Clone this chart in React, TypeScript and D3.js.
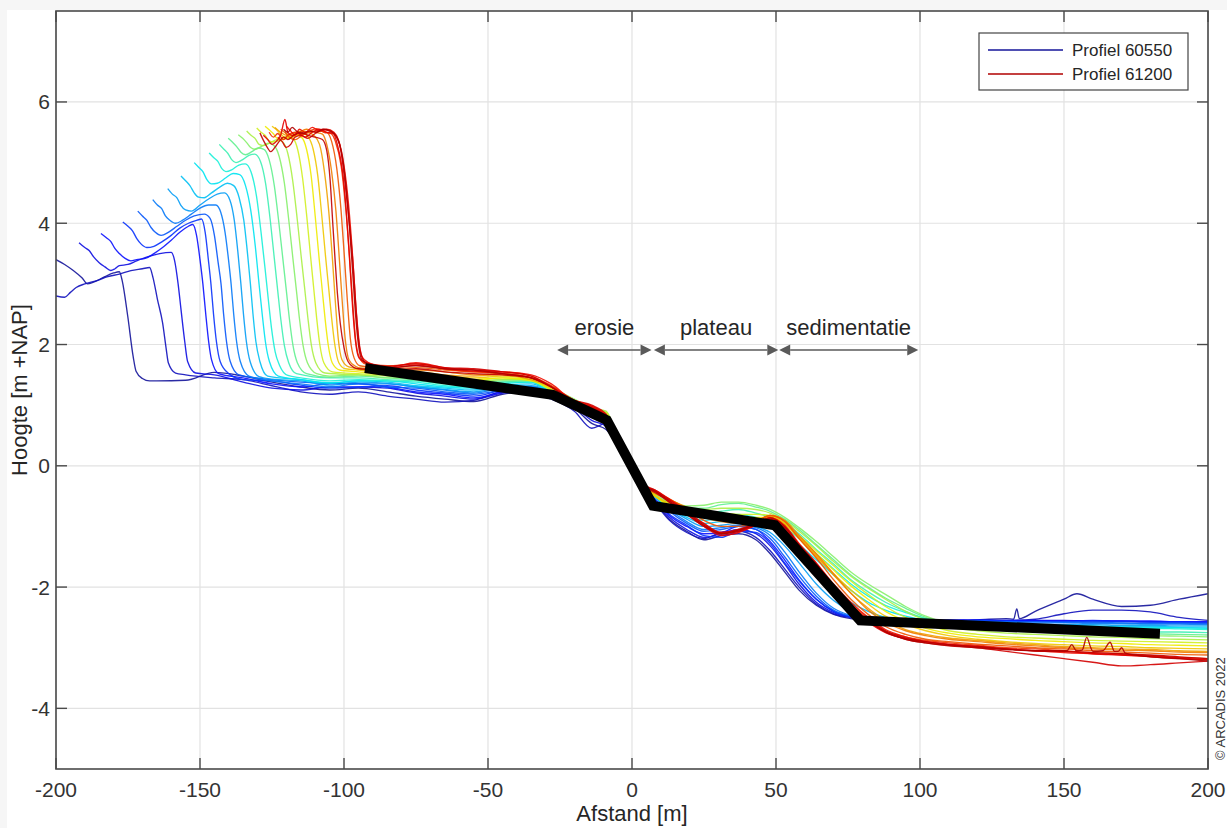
import React from 'react';
import * as d3 from 'd3';

// ---- axes -------------------------------------------------------------
const xTicks = [-200, -150, -100, -50, 0, 50, 100, 150, 200];
const yTicks = [-4, -2, 0, 2, 4, 6];
const xDomain: [number, number] = [-200, 200];
const yDomain: [number, number] = [-5, 7.5];

const xLabel = 'Afstand [m]';
const yLabel = 'Hoogte [m +NAP]';
const credit = '\u00A9 ARCADIS 2022';
const legendLabels = ['Profiel 60550', 'Profiel 61200'];

// ---- zones above the profile --------------------------------------------
const zoneNames = ['erosie', 'plateau', 'sedimentatie'];
const zoneStart = [-26, 7.6, 51.1];
const zoneEnd = [6.8, 50.8, 99.4];
const zoneLevel = 1.91;

// ---- schematised profile (thick black line) ------------------------------
const kustlijnX = [-92.7, -27.5, -8.7, 7.3, 49.6, 79.2, 183.3];
const kustlijnY = [1.61, 1.17, 0.75, -0.66, -0.98, -2.55, -2.77];

// ---- measured profiles ---------------------------------------------------
// shared distance raster for the beach/foreshore part of every profile;
// each "zee" array holds heights for the last N raster points
const rasterX = [
  -165, -155, -145, -135, -125, -115, -105,
  -95, -85, -75, -65, -55, -45, -35,
  -28, -20, -14, -9, -5,
  0, 4, 8, 13, 19,
  25, 31, 37, 43, 48,
  53, 58, 64, 70, 76,
  82, 88, 95, 102, 110,
  120, 130, 140, 150, 160,
  170, 180, 190, 200,
];

type P = [number, number];

const duin00: P[] = [[-200,3.40],[-197,3.32],[-194,3.22],[-191,3.10],[-189,3.00],[-186,3.05],[-183,3.12],[-180,3.18],[-178,3.20],[-177,3.05],[-175.1,2.47],[-173.2,1.80],[-172.2,1.56],[-170,1.44],[-167.5,1.40]];
const zee00 = [1.40, 1.41, 1.54, 1.48, 1.38, 1.30, 1.25,
  1.28, 1.22, 1.15, 1.10, 1.06, 1.18, 1.22,
  1.12, 0.95, 0.70, 0.60, 0.35,
  -0.10, -0.40, -0.60, -0.88, -1.08,
  -1.22, -1.15, -1.12, -1.22, -1.45,
  -1.75, -2.05, -2.30, -2.45, -2.52,
  -2.55, -2.56, -2.55, -2.56, -2.55,
  -2.54, -2.52, -2.40, -2.20, -2.20,
  -2.32, -2.30, -2.20, -2.11];
const extra00: P[] = [[132.5,-2.53],[133.6,-2.36],[134.5,-2.52],[154.5,-2.11]];

const duin01: P[] = [[-200,2.80],[-197,2.78],[-195,2.86],[-193,2.94],[-190,3.00],[-186,3.05],[-182,3.12],[-178,3.16],[-174,3.22],[-170,3.25],[-167.5,3.27],[-166.3,3.10],[-164.8,2.75],[-163,2.36],[-161.8,1.95],[-161,1.70],[-158.5,1.53]];
const zee01 = [1.50, 1.45, 1.42, 1.32, 1.22, 1.18,
  1.22, 1.15, 1.10, 1.05, 1.08, 1.22, 1.18,
  1.10, 0.90, 0.62, 0.70, 0.32,
  -0.12, -0.42, -0.62, -0.90, -1.10,
  -1.20, -1.10, -1.08, -1.18, -1.40,
  -1.70, -2.00, -2.28, -2.44, -2.50,
  -2.53, -2.54, -2.55, -2.55, -2.54,
  -2.55, -2.55, -2.53, -2.44, -2.38,
  -2.38, -2.41, -2.50, -2.55];

const duin02: P[] = [[-192,3.68],[-190,3.60],[-188.5,3.55],[-187,3.45],[-185,3.35],[-183,3.28],[-181,3.22],[-179.5,3.25],[-178,3.30],[-175,3.32],[-172,3.38],[-168,3.45],[-164,3.50],[-160,3.52],[-158.8,3.38],[-157.6,3.00],[-156.6,2.58],[-155.3,2.05],[-154.3,1.72],[-151.5,1.53]];
const zee02 = [1.50, 1.38, 1.28, 1.25, 1.30,
  1.30, 1.28, 1.20, 1.15, 1.10, 1.20, 1.25,
  1.12, 0.98, 0.75, 0.65, 0.36,
  -0.08, -0.40, -0.58, -0.85, -1.05,
  -1.18, -1.12, -1.05, -1.12, -1.32,
  -1.62, -1.95, -2.25, -2.42, -2.50,
  -2.54, -2.55, -2.55, -2.54, -2.55,
  -2.55, -2.56, -2.55, -2.55, -2.56,
  -2.56, -2.57, -2.57, -2.58];

const duin03: P[] = [[-184.4,3.83],[-182.5,3.76],[-181,3.70],[-179.5,3.58],[-178,3.50],[-176,3.42],[-174,3.38],[-172,3.40],[-169,3.42],[-166,3.50],[-163,3.60],[-160,3.72],[-157,3.85],[-154,3.95],[-152.5,3.98],[-151.2,3.80],[-150,3.40],[-149,3.00],[-148,2.50],[-147,2.05],[-146,1.75],[-143.5,1.52]];
const zee03 = [1.45, 1.35, 1.30, 1.35,
  1.35, 1.30, 1.22, 1.18, 1.12, 1.22, 1.28,
  1.15, 1.00, 0.80, 0.72, 0.38,
  -0.05, -0.38, -0.55, -0.82, -1.00,
  -1.12, -1.10, -1.00, -1.05, -1.25,
  -1.55, -1.88, -2.20, -2.40, -2.49,
  -2.53, -2.54, -2.54, -2.55, -2.55,
  -2.54, -2.55, -2.55, -2.56, -2.55,
  -2.56, -2.56, -2.57, -2.57];

const duin04: P[] = [[-176.8,4.02],[-175,3.95],[-173.5,3.88],[-172,3.75],[-170.5,3.66],[-168.5,3.60],[-166,3.62],[-163,3.70],[-160,3.80],[-157,3.92],[-154,4.00],[-151,4.05],[-149.5,4.07],[-148.2,3.85],[-147.1,3.40],[-146.2,3.00],[-145.3,2.50],[-144.3,2.05],[-143,1.72],[-140,1.52]];
const zee04 = [1.42, 1.40, 1.33, 1.28,
  1.30, 1.32, 1.25, 1.20, 1.15, 1.25, 1.30,
  1.18, 1.02, 0.82, 0.70, 0.40,
  -0.04, -0.36, -0.56, -0.80, -0.98,
  -1.15, -1.18, -1.08, -1.10, -1.28,
  -1.60, -1.90, -2.20, -2.40, -2.50,
  -2.54, -2.55, -2.55, -2.56, -2.56,
  -2.55, -2.56, -2.57, -2.57, -2.56,
  -2.57, -2.58, -2.58, -2.59];

const duin05: P[] = [[-171.6,4.20],[-170,4.12],[-168.5,4.05],[-167,3.93],[-165.5,3.85],[-163.5,3.80],[-161,3.85],[-158,3.95],[-155,4.05],[-152,4.12],[-148.5,4.15],[-146.5,4.08],[-145,3.80],[-143.7,3.35],[-142.7,3.00],[-141.8,2.50],[-140.8,2.05],[-139.5,1.72],[-136.5,1.50]];
const zee05 = [1.42, 1.38, 1.36,
  1.36, 1.30, 1.28, 1.22, 1.18, 1.25, 1.30,
  1.20, 1.00, 0.85, 0.75, 0.40,
  -0.03, -0.35, -0.52, -0.75, -0.95,
  -1.08, -1.05, -1.00, -1.05, -1.20,
  -1.50, -1.82, -2.15, -2.38, -2.48,
  -2.53, -2.55, -2.56, -2.56, -2.57,
  -2.56, -2.57, -2.57, -2.58, -2.58,
  -2.59, -2.60, -2.60, -2.60];

const duin06: P[] = [[-166.4,4.39],[-164.8,4.30],[-163.3,4.24],[-162,4.12],[-160.5,4.05],[-158.5,4.00],[-156,4.05],[-153,4.15],[-150,4.25],[-147,4.30],[-144.5,4.30],[-142.8,4.18],[-141.3,3.85],[-140.1,3.40],[-139.2,3.00],[-138.3,2.50],[-137.3,2.05],[-136,1.72],[-133,1.48]];
const zee06 = [1.40, 1.35, 1.30,
  1.35, 1.35, 1.30, 1.25, 1.20, 1.28, 1.30,
  1.20, 1.02, 0.85, 0.78, 0.42,
  0.00, -0.33, -0.50, -0.72, -0.92,
  -1.05, -1.02, -0.98, -1.02, -1.15,
  -1.42, -1.75, -2.10, -2.35, -2.47,
  -2.53, -2.55, -2.56, -2.57, -2.57,
  -2.58, -2.58, -2.59, -2.59, -2.60,
  -2.60, -2.61, -2.61, -2.62];

const duin07: P[] = [[-161.2,4.57],[-159.6,4.48],[-158,4.42],[-156.7,4.30],[-155,4.22],[-153,4.20],[-150,4.30],[-147,4.40],[-144,4.48],[-141.5,4.50],[-139.6,4.38],[-138.1,4.05],[-136.8,3.50],[-135.8,3.00],[-134.9,2.50],[-133.9,2.05],[-132.6,1.72],[-129.5,1.47]];
const zee07 = [1.43, 1.40, 1.33,
  1.38, 1.36, 1.30, 1.26, 1.22, 1.30, 1.32,
  1.22, 1.05, 0.88, 0.78, 0.43,
  0.00, -0.32, -0.50, -0.70, -0.88,
  -1.00, -0.98, -0.95, -1.00, -1.10,
  -1.32, -1.60, -1.95, -2.22, -2.40,
  -2.50, -2.54, -2.56, -2.58, -2.59,
  -2.60, -2.61, -2.61, -2.62, -2.62,
  -2.63, -2.63, -2.64, -2.64];

const duin08: P[] = [[-156.6,4.78],[-155,4.70],[-153.5,4.62],[-152,4.50],[-150.5,4.43],[-148.5,4.42],[-146,4.50],[-143,4.60],[-140.5,4.66],[-138.3,4.62],[-136.4,4.42],[-134.8,4.05],[-133.5,3.50],[-132.5,3.00],[-131.6,2.50],[-130.6,2.05],[-129.2,1.72],[-126.5,1.48]];
const zee08 = [1.42, 1.36,
  1.40, 1.38, 1.32, 1.28, 1.25, 1.32, 1.35,
  1.22, 1.05, 0.90, 0.80, 0.44,
  0.01, -0.32, -0.52, -0.70, -0.85,
  -0.95, -0.92, -0.90, -0.95, -1.02,
  -1.20, -1.45, -1.75, -2.02, -2.25,
  -2.40, -2.50, -2.55, -2.58, -2.60,
  -2.61, -2.62, -2.63, -2.63, -2.64,
  -2.65, -2.65, -2.66, -2.66];

const duin09: P[] = [[-152,5.00],[-150.4,4.92],[-149,4.85],[-147.6,4.72],[-146,4.65],[-144,4.66],[-141,4.75],[-138.5,4.82],[-136.2,4.80],[-134.2,4.62],[-132.4,4.22],[-130.8,3.62],[-129.5,3.00],[-128.4,2.50],[-127.3,2.05],[-125.9,1.72],[-122.8,1.48]];
const zee09 = [1.42, 1.37,
  1.40, 1.40, 1.35, 1.30, 1.28, 1.35, 1.38,
  1.20, 1.05, 0.88, 0.80, 0.44,
  0.02, -0.30, -0.50, -0.70, -0.82,
  -0.90, -0.88, -0.86, -0.90, -0.98,
  -1.10, -1.30, -1.55, -1.80, -2.05,
  -2.25, -2.38, -2.48, -2.55, -2.60,
  -2.62, -2.63, -2.64, -2.65, -2.65,
  -2.66, -2.67, -2.67, -2.68];

const duin10: P[] = [[-146.8,5.16],[-145.2,5.08],[-143.8,5.02],[-142.4,4.90],[-141,4.85],[-139,4.88],[-136.5,4.96],[-134.3,4.98],[-132.3,4.85],[-130.4,4.45],[-128.8,3.85],[-127.4,3.25],[-126.3,2.75],[-125.2,2.28],[-123.9,1.88],[-122.4,1.66],[-119.5,1.49]];
const zee10 = [1.45, 1.40,
  1.42, 1.40, 1.38, 1.32, 1.30, 1.38, 1.38,
  1.22, 1.05, 0.90, 0.82, 0.45,
  0.03, -0.30, -0.50, -0.68, -0.80,
  -0.86, -0.82, -0.80, -0.85, -0.92,
  -1.02, -1.20, -1.45, -1.70, -1.95,
  -2.15, -2.30, -2.42, -2.52, -2.58,
  -2.62, -2.64, -2.65, -2.66, -2.67,
  -2.68, -2.68, -2.69, -2.70];

const duin11: P[] = [[-143.3,5.30],[-141.7,5.22],[-140.3,5.15],[-139,5.05],[-137.5,5.00],[-135.5,5.04],[-133,5.12],[-131,5.14],[-129,5.02],[-127.2,4.65],[-125.6,4.05],[-124.2,3.42],[-123,2.88],[-121.9,2.40],[-120.7,1.98],[-119.2,1.70],[-116.5,1.52]];
const zee11 = [1.45,
  1.45, 1.42, 1.40, 1.35, 1.32, 1.38, 1.40,
  1.25, 1.08, 0.90, 0.85, 0.45,
  0.03, -0.30, -0.50, -0.65, -0.75,
  -0.80, -0.75, -0.72, -0.78, -0.85,
  -0.95, -1.12, -1.38, -1.62, -1.88,
  -2.08, -2.25, -2.40, -2.52, -2.60,
  -2.66, -2.68, -2.70, -2.71, -2.72,
  -2.73, -2.74, -2.74, -2.75];

const duin12: P[] = [[-140.2,5.40],[-138.6,5.33],[-137.2,5.26],[-135.8,5.17],[-134.2,5.13],[-132,5.18],[-129.8,5.24],[-127.8,5.22],[-126,5.05],[-124.2,4.62],[-122.6,4.00],[-121.2,3.40],[-120,2.88],[-118.9,2.40],[-117.7,1.98],[-116.2,1.70],[-113,1.52]];
const zee12 = [1.46,
  1.48, 1.45, 1.42, 1.38, 1.35, 1.40, 1.40,
  1.25, 1.08, 0.92, 0.85, 0.46,
  0.04, -0.30, -0.48, -0.62, -0.70,
  -0.70, -0.64, -0.62, -0.68, -0.75,
  -0.88, -1.05, -1.30, -1.55, -1.80,
  -2.00, -2.18, -2.35, -2.50, -2.60,
  -2.66, -2.70, -2.72, -2.74, -2.75,
  -2.76, -2.77, -2.78, -2.79];

const duin13: P[] = [[-136.7,5.46],[-135.2,5.40],[-133.8,5.33],[-132.4,5.25],[-130.8,5.22],[-128.5,5.27],[-126.3,5.32],[-124.3,5.28],[-122.5,5.10],[-120.7,4.66],[-119.1,4.02],[-117.7,3.40],[-116.5,2.88],[-115.4,2.40],[-114.2,1.98],[-112.7,1.70],[-109.5,1.52]];
const zee13 = [1.48,
  1.50, 1.45, 1.45, 1.40, 1.38, 1.42, 1.42,
  1.28, 1.10, 0.95, 0.88, 0.47,
  0.05, -0.30, -0.47, -0.60, -0.66,
  -0.65, -0.60, -0.60, -0.65, -0.72,
  -0.85, -1.02, -1.25, -1.50, -1.75,
  -1.95, -2.12, -2.32, -2.48, -2.60,
  -2.68, -2.72, -2.74, -2.76, -2.77,
  -2.78, -2.80, -2.81, -2.82];

const duin14: P[] = [[-133.8,5.52],[-132.3,5.45],[-130.9,5.40],[-129.5,5.30],[-128,5.28],[-125.5,5.33],[-123.3,5.38],[-121.3,5.34],[-119.5,5.15],[-117.8,4.70],[-116.2,4.05],[-114.8,3.42],[-113.6,2.90],[-112.5,2.42],[-111.3,1.98],[-109.8,1.70],[-106.6,1.53]];
const zee14 = [1.50, 1.48, 1.45, 1.42, 1.40, 1.42, 1.42,
  1.28, 1.08, 0.95, 0.90, 0.48,
  0.05, -0.30, -0.48, -0.62, -0.70,
  -0.72, -0.70, -0.70, -0.72, -0.78,
  -0.90, -1.08, -1.32, -1.58, -1.82,
  -2.02, -2.20, -2.40, -2.55, -2.66,
  -2.72, -2.76, -2.78, -2.80, -2.82,
  -2.83, -2.85, -2.86, -2.87];

const duin15: P[] = [[-130.3,5.57],[-128.8,5.50],[-127.4,5.45],[-126,5.36],[-124.5,5.34],[-122,5.38],[-119.8,5.43],[-117.8,5.40],[-116,5.20],[-114.4,4.75],[-112.9,4.10],[-111.6,3.45],[-110.5,2.92],[-109.5,2.44],[-108.4,2.00],[-107,1.70],[-104,1.55]];
const zee15 = [1.52, 1.50, 1.46, 1.44, 1.42, 1.45, 1.42,
  1.25, 1.05, 0.92, 0.88, 0.47,
  0.04, -0.32, -0.50, -0.65, -0.75,
  -0.78, -0.78, -0.80, -0.80, -0.82,
  -0.95, -1.15, -1.40, -1.65, -1.90,
  -2.12, -2.32, -2.50, -2.62, -2.72,
  -2.78, -2.82, -2.84, -2.86, -2.88,
  -2.89, -2.90, -2.91, -2.92];

const duin16: P[] = [[-127.4,5.60],[-126,5.54],[-124.6,5.48],[-123.2,5.40],[-121.6,5.38],[-119,5.42],[-116.8,5.46],[-114.8,5.42],[-113,5.22],[-111.4,4.78],[-110,4.12],[-108.7,3.45],[-107.6,2.92],[-106.6,2.44],[-105.5,2.00],[-104.1,1.70],[-101.5,1.58]];
const zee16 = [1.55, 1.50, 1.48, 1.45, 1.42, 1.45, 1.40,
  1.25, 1.05, 0.90, 0.85, 0.46,
  0.04, -0.32, -0.50, -0.66, -0.78,
  -0.82, -0.85, -0.86, -0.85, -0.85,
  -0.97, -1.18, -1.45, -1.72, -1.98,
  -2.20, -2.40, -2.56, -2.68, -2.76,
  -2.82, -2.85, -2.88, -2.90, -2.92,
  -2.93, -2.95, -2.96, -2.97];

const duin17: P[] = [[-125,5.60],[-123.6,5.55],[-122.2,5.48],[-120.8,5.42],[-119,5.40],[-116.5,5.45],[-114.3,5.48],[-112.4,5.42],[-110.7,5.22],[-109.1,4.78],[-107.7,4.12],[-106.4,3.45],[-105.3,2.92],[-104.3,2.44],[-103.2,2.00],[-101.8,1.70],[-99.5,1.60]];
const zee17 = [1.58, 1.52, 1.50, 1.48, 1.45, 1.48, 1.42,
  1.28, 1.05, 0.92, 0.85, 0.45,
  0.03, -0.33, -0.50, -0.62, -0.72,
  -0.82, -0.88, -0.90, -0.88, -0.84,
  -0.95, -1.20, -1.50, -1.78, -2.05,
  -2.28, -2.48, -2.62, -2.72, -2.80,
  -2.86, -2.90, -2.93, -2.95, -2.97,
  -2.98, -3.00, -3.01, -3.02];

const duin18: P[] = [[-124,5.58],[-122,5.50],[-120,5.45],[-117.5,5.48],[-115,5.52],[-112.5,5.50],[-110.5,5.45],[-108.5,5.30],[-106.8,4.85],[-105.3,4.20],[-104,3.40],[-103,2.70],[-102,2.10],[-100.7,1.75],[-98.3,1.63]];
const zee18 = [1.60, 1.55, 1.55, 1.50, 1.48, 1.50, 1.42,
  1.30, 1.05, 0.95, 0.85, 0.45,
  0.02, -0.32, -0.46, -0.56, -0.68,
  -0.80, -0.86, -0.92, -0.90, -0.82,
  -0.92, -1.18, -1.48, -1.80, -2.10,
  -2.35, -2.55, -2.70, -2.78, -2.84,
  -2.88, -2.92, -2.95, -2.98, -3.00,
  -3.02, -3.03, -3.05, -3.06];

const duin19: P[] = [[-122,5.55],[-120,5.48],[-118,5.44],[-115.5,5.50],[-113,5.55],[-110,5.50],[-107.5,5.47],[-106,5.30],[-104.3,4.85],[-102.8,4.20],[-101.6,3.40],[-100.6,2.70],[-99.6,2.10],[-98.3,1.75],[-96,1.64]];
const zee19 = [1.62, 1.58, 1.58, 1.55, 1.50, 1.52, 1.45,
  1.30, 1.08, 0.98, 0.82, 0.44,
  0.02, -0.32, -0.45, -0.55, -0.70,
  -0.85, -0.92, -0.95, -0.92, -0.82,
  -0.90, -1.15, -1.45, -1.78, -2.10,
  -2.38, -2.58, -2.72, -2.80, -2.86,
  -2.90, -2.94, -2.97, -3.00, -3.02,
  -3.04, -3.05, -3.07, -3.08];

const duin20: P[] = [[-120.5,5.50],[-119,5.42],[-117,5.38],[-114.5,5.45],[-112,5.50],[-109,5.52],[-106,5.50],[-104.3,5.35],[-102.5,4.90],[-101,4.20],[-99.8,3.40],[-98.8,2.70],[-97.8,2.10],[-96.5,1.78],[-94.5,1.65]];
const zee20 = [1.60, 1.62, 1.58, 1.55, 1.52, 1.45,
  1.32, 1.05, 0.95, 0.80, 0.42,
  0.00, -0.33, -0.42, -0.55, -0.72,
  -0.90, -1.00, -1.00, -0.92, -0.82,
  -0.92, -1.20, -1.52, -1.88, -2.20,
  -2.45, -2.65, -2.78, -2.86, -2.90,
  -2.94, -2.97, -3.00, -3.02, -3.05,
  -3.07, -3.09, -3.11, -3.12];

const duin21: P[] = [[-126,5.50],[-124.5,5.42],[-123,5.48],[-121,5.38],[-119.5,5.45],[-117,5.50],[-114.5,5.46],[-112,5.52],[-109.5,5.56],[-107,5.50],[-104.5,5.48],[-103,5.35],[-101,4.95],[-99.5,4.30],[-98,3.40],[-97,2.70],[-96,2.10],[-94.8,1.80],[-92.5,1.68]];
const zee21 = [1.65, 1.68, 1.60, 1.55, 1.55, 1.48,
  1.32, 1.08, 0.98, 0.82, 0.42,
  -0.02, -0.32, -0.42, -0.58, -0.78,
  -0.98, -1.12, -1.05, -0.95, -0.85,
  -1.00, -1.30, -1.62, -1.98, -2.28,
  -2.52, -2.72, -2.82, -2.88, -2.92,
  -2.96, -3.00, -3.02, -3.05, -3.08,
  -3.10, -3.13, -3.16, -3.18];

const duin22: P[] = [[-120,5.60],[-118.5,5.52],[-117,5.45],[-115.5,5.55],[-113.5,5.50],[-111,5.58],[-108.5,5.52],[-106,5.55],[-103.5,5.50],[-102,5.38],[-100,4.95],[-98.5,4.35],[-97,3.45],[-96,2.70],[-95,2.10],[-93.8,1.80],[-91.5,1.70]];
const zee22 = [1.62, 1.70, 1.62, 1.58, 1.55, 1.50,
  1.35, 1.05, 0.95, 0.78, 0.40,
  -0.03, -0.33, -0.40, -0.55, -0.75,
  -0.95, -1.10, -1.08, -0.98, -0.86,
  -0.98, -1.28, -1.60, -1.95, -2.25,
  -2.50, -2.70, -2.82, -2.90, -2.95,
  -2.98, -3.02, -3.05, -3.08, -3.10,
  -3.12, -3.15, -3.18, -3.20];

const duin23: P[] = [[-128,5.45],[-126.5,5.38],[-125,5.30],[-123.5,5.35],[-122,5.45],[-120.5,5.71],[-119.5,5.50],[-118,5.45],[-116,5.48],[-113.5,5.42],[-111,5.50],[-108.5,5.55],[-106,5.50],[-103.8,5.48],[-102.3,5.30],[-100.5,4.85],[-99.2,4.20],[-98,3.35],[-97,2.60],[-96,2.05],[-94.8,1.78],[-92.5,1.70]];
const zee23 = [1.60, 1.66, 1.60, 1.56, 1.52, 1.45,
  1.30, 1.05, 0.98, 0.82, 0.42,
  -0.01, -0.30, -0.42, -0.60, -0.80,
  -1.00, -1.15, -1.10, -0.98, -0.90,
  -1.05, -1.35, -1.68, -2.05, -2.35,
  -2.58, -2.75, -2.85, -2.90, -2.94,
  -2.98, -3.02, -3.05, -3.06, -3.10,
  -3.12, -3.14, -3.17, -3.20];

const duin24: P[] = [[-123,5.42],[-121.5,5.35],[-120,5.25],[-118.5,5.30],[-117,5.42],[-115,5.45],[-112.5,5.40],[-110,5.48],[-107.5,5.55],[-105,5.52],[-103,5.45],[-101.5,5.30],[-99,4.39],[-96.8,3.29],[-95.6,2.47],[-94.4,1.92],[-92.7,1.71],[-90.5,1.68]];
const zee24 = [1.64, 1.68, 1.62, 1.60, 1.55, 1.48,
  1.30, 1.08, 1.00, 0.85, 0.44,
  0.00, -0.30, -0.40, -0.56, -0.76,
  -0.96, -1.10, -1.05, -0.95, -0.88,
  -1.02, -1.32, -1.65, -2.02, -2.32,
  -2.56, -2.74, -2.86, -2.92, -2.97,
  -3.00, -3.06, -3.12, -3.18, -3.24,
  -3.30, -3.28, -3.25, -3.22];

const duin25: P[] = [[-129.2,5.49],[-127.8,5.35],[-126.5,5.24],[-125.5,5.18],[-124,5.25],[-122.5,5.35],[-121,5.42],[-119.5,5.38],[-117.5,5.45],[-115,5.50],[-112.5,5.45],[-110,5.42],[-107.5,5.38],[-106,5.20],[-104.8,4.70],[-103.9,4.00],[-103.1,3.40],[-102.3,2.85],[-101.3,2.35],[-100,1.95],[-98.6,1.72],[-96.5,1.62]];
const zee25 = [1.60, 1.58, 1.60, 1.55, 1.52, 1.50, 1.45,
  1.30, 1.05, 0.95, 0.80, 0.42,
  -0.02, -0.32, -0.44, -0.60, -0.80,
  -1.00, -1.12, -1.08, -0.96, -0.88,
  -1.02, -1.30, -1.62, -1.98, -2.30,
  -2.55, -2.72, -2.84, -2.90, -2.95,
  -2.98, -3.02, -3.05, -3.06, -3.08,
  -3.10, -3.12, -3.15, -3.18];

const duin26: P[] = [[-121,5.55],[-119.5,5.50],[-118,5.58],[-116.5,5.52],[-114.5,5.48],[-112,5.52],[-109.5,5.50],[-107,5.55],[-104.5,5.52],[-102.5,5.42],[-101,5.20],[-99.5,4.70],[-98.2,4.00],[-97,3.20],[-96,2.50],[-95,2.00],[-93.8,1.75],[-91.5,1.68]];
const zee26 = [1.62, 1.65, 1.60, 1.58, 1.52, 1.45,
  1.30, 1.05, 0.96, 0.80, 0.41,
  -0.02, -0.32, -0.42, -0.58, -0.78,
  -0.98, -1.12, -1.06, -0.96, -0.86,
  -1.00, -1.30, -1.62, -1.98, -2.30,
  -2.55, -2.74, -2.86, -2.92, -2.96,
  -3.00, -3.03, -3.05, -3.05, -3.06,
  -3.00, -3.15, -3.18, -3.22];
const extra26: P[] = [[151,-3.05],[152.7,-2.95],[154.3,-3.05],[156.3,-3.04],[157.9,-2.83],[159.3,-3.00],[163.5,-3.05],[166,-2.91],[167.5,-3.06],[168.8,-3.06],[171.3,-3.09]];

// profiles ordered from 60550 (first) to 61200 (last)
const profielen: { duin: P[]; zee: number[]; extra?: P[] }[] = [
  { duin: duin00, zee: zee00, extra: extra00 },
  { duin: duin01, zee: zee01 },
  { duin: duin02, zee: zee02 },
  { duin: duin03, zee: zee03 },
  { duin: duin04, zee: zee04 },
  { duin: duin05, zee: zee05 },
  { duin: duin06, zee: zee06 },
  { duin: duin07, zee: zee07 },
  { duin: duin08, zee: zee08 },
  { duin: duin09, zee: zee09 },
  { duin: duin10, zee: zee10 },
  { duin: duin11, zee: zee11 },
  { duin: duin12, zee: zee12 },
  { duin: duin13, zee: zee13 },
  { duin: duin14, zee: zee14 },
  { duin: duin15, zee: zee15 },
  { duin: duin16, zee: zee16 },
  { duin: duin17, zee: zee17 },
  { duin: duin18, zee: zee18 },
  { duin: duin19, zee: zee19 },
  { duin: duin20, zee: zee20 },
  { duin: duin21, zee: zee21 },
  { duin: duin22, zee: zee22 },
  { duin: duin23, zee: zee23 },
  { duin: duin24, zee: zee24 },
  { duin: duin25, zee: zee25 },
  { duin: duin26, zee: zee26, extra: extra26 },
];

// jet-like colormap
const jet = d3
  .scaleLinear<string>()
  .domain([0, 0.11, 0.36, 0.61, 0.86, 1])
  .range(['#14149a', '#0a0aff', '#00f0f0', '#f0f000', '#f00000', '#b00000'])
  .interpolate(d3.interpolateRgb);

const FONT = '"Liberation Sans", Arial, Helvetica, sans-serif';
const W = 1227;
const H = 828;
const plot = { left: 56, right: 1208, top: 11, bottom: 769 };

export default function App() {
  const x = d3.scaleLinear().domain(xDomain).range([plot.left, plot.right]);
  const y = d3.scaleLinear().domain(yDomain).range([plot.bottom, plot.top]);
  const profileLine = d3
    .line<P>()
    .x((d) => x(d[0]))
    .y((d) => y(d[1]))
    .curve(d3.curveMonotoneX);
  const straight = d3
    .line<P>()
    .x((d) => x(d[0]))
    .y((d) => y(d[1]));

  const n = profielen.length;
  const lines = profielen.map((p, i) => {
    const start = rasterX.length - p.zee.length;
    const zeePts: P[] = p.zee.map((v, k) => [rasterX[start + k], v]);
    const pts = [...p.duin, ...zeePts, ...(p.extra ?? [])].sort((a, b) => a[0] - b[0]);
    return { d: profileLine(pts) ?? '', color: jet(i / (n - 1)) };
  });

  const kust: P[] = kustlijnX.map((v, i) => [v, kustlijnY[i]]);

  const tickLen = 11;
  const arrowLen = 11;
  const arrowHalf = 5.5;
  const arrowColor = '#5a5a5a';
  const textColor = '#262626';
  const axisColor = '#4a4a4a';

  const legendColors = [jet(0), jet(1)];
  const lg = { x: 979, y: 33, w: 209, h: 57 };

  return (
    <svg
      width={W}
      height={H}
      viewBox={`0 0 ${W} ${H}`}
      style={{ position: 'absolute', left: 0, top: 0, display: 'block' }}
      fontFamily={FONT}
    >
      <defs>
        <clipPath id="plotClip">
          <rect x={plot.left} y={plot.top} width={plot.right - plot.left} height={plot.bottom - plot.top} />
        </clipPath>
      </defs>
      <rect x={0} y={0} width={W} height={H} fill="#f6f6f6" />
      <rect x={7} y={10} width={W - 7} height={H - 10} fill="#ffffff" />

      {/* grid */}
      <g stroke="#e2e2e2" strokeWidth={1.2}>
        {xTicks.map((t) => (
          <line key={`gx${t}`} x1={x(t)} x2={x(t)} y1={plot.top} y2={plot.bottom} />
        ))}
        {yTicks.map((t) => (
          <line key={`gy${t}`} x1={plot.left} x2={plot.right} y1={y(t)} y2={y(t)} />
        ))}
      </g>

      {/* measured profiles */}
      <g clipPath="url(#plotClip)" fill="none" strokeWidth={1.35} strokeOpacity={0.9} strokeLinejoin="round">
        {lines.map((l, i) => (
          <path key={i} d={l.d} stroke={l.color} />
        ))}
      </g>

      {/* schematised profile */}
      <path d={straight(kust) ?? ''} fill="none" stroke="#000" strokeWidth={10} strokeLinejoin="miter" strokeLinecap="butt" />

      {/* zone arrows */}
      {zoneNames.map((name, i) => {
        const x1 = x(zoneStart[i]);
        const x2 = x(zoneEnd[i]);
        const yy = y(zoneLevel);
        return (
          <g key={name}>
            <line x1={x1 + arrowLen} x2={x2 - arrowLen} y1={yy} y2={yy} stroke={arrowColor} strokeWidth={1.5} />
            <polygon
              points={`${x1},${yy} ${x1 + arrowLen},${yy - arrowHalf} ${x1 + arrowLen},${yy + arrowHalf}`}
              fill={arrowColor}
            />
            <polygon
              points={`${x2},${yy} ${x2 - arrowLen},${yy - arrowHalf} ${x2 - arrowLen},${yy + arrowHalf}`}
              fill={arrowColor}
            />
            <text x={(x1 + x2) / 2} y={yy - 15} textAnchor="middle" fontSize={22} fill={textColor}>
              {name}
            </text>
          </g>
        );
      })}

      {/* axes box and ticks */}
      <rect
        x={plot.left}
        y={plot.top}
        width={plot.right - plot.left}
        height={plot.bottom - plot.top}
        fill="none"
        stroke={axisColor}
        strokeWidth={1.6}
      />
      <g stroke={axisColor} strokeWidth={1.4}>
        {xTicks.map((t) => (
          <g key={`tx${t}`}>
            <line x1={x(t)} x2={x(t)} y1={plot.bottom} y2={plot.bottom - tickLen} />
            <line x1={x(t)} x2={x(t)} y1={plot.top} y2={plot.top + tickLen} />
          </g>
        ))}
        {yTicks.map((t) => (
          <g key={`ty${t}`}>
            <line x1={plot.left} x2={plot.left + tickLen} y1={y(t)} y2={y(t)} />
            <line x1={plot.right} x2={plot.right - tickLen} y1={y(t)} y2={y(t)} />
          </g>
        ))}
      </g>
      <g fontSize={21} fill="#333">
        {xTicks.map((t) => (
          <text key={`lx${t}`} x={x(t)} y={plot.bottom + 28} textAnchor="middle">
            {t}
          </text>
        ))}
        {yTicks.map((t) => (
          <text key={`ly${t}`} x={plot.left - 6} y={y(t)} textAnchor="end" dominantBaseline="central">
            {t}
          </text>
        ))}
      </g>

      {/* axis titles */}
      <text x={(plot.left + plot.right) / 2} y={821} textAnchor="middle" fontSize={22} fill={textColor}>
        {xLabel}
      </text>
      <text
        transform={`translate(27, ${(plot.top + plot.bottom) / 2}) rotate(-90)`}
        textAnchor="middle"
        fontSize={22}
        fill={textColor}
      >
        {yLabel}
      </text>

      {/* legend */}
      <rect x={lg.x} y={lg.y} width={lg.w} height={lg.h} fill="#fff" stroke="#444" strokeWidth={1.2} />
      {legendLabels.map((lab, i) => {
        const yy = lg.y + 17 + i * 24;
        return (
          <g key={lab}>
            <line x1={988} x2={1063} y1={yy} y2={yy} stroke={legendColors[i]} strokeWidth={1.3} />
            <text x={1072} y={yy} dominantBaseline="central" fontSize={17} fill={textColor}>
              {lab}
            </text>
          </g>
        );
      })}

      {/* credit */}
      <text transform="translate(1225, 760) rotate(-90)" fontSize={13} fill="#333">
        {credit}
      </text>
    </svg>
  );
}
